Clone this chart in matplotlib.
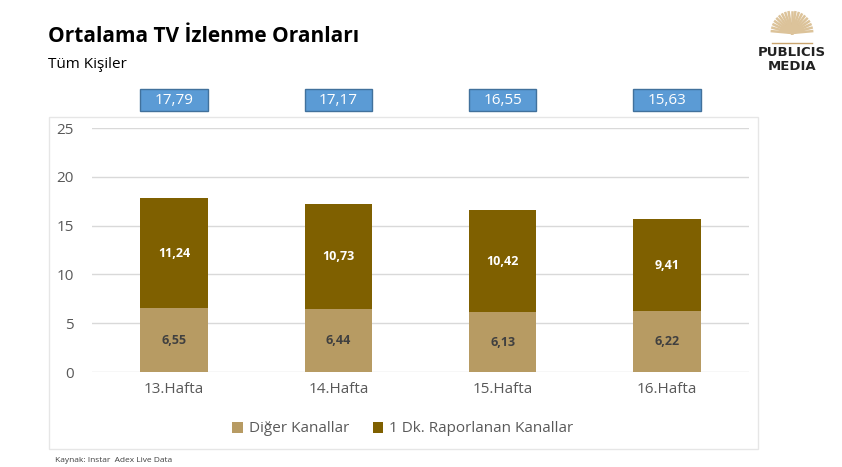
import numpy as np
import matplotlib.pyplot as plt
from matplotlib.patches import Rectangle
from matplotlib.transforms import blended_transform_factory

weeks = ['13.Hafta', '14.Hafta', '15.Hafta', '16.Hafta']
diger = [6.55, 6.44, 6.13, 6.22]
raporlanan = [11.24, 10.73, 10.42, 9.41]
toplam = [17.79, 17.17, 16.55, 15.63]

plt.rcParams['font.family'] = ['Open Sans', 'DejaVu Sans']


def fmt(v):
    return f'{v:.2f}'.replace('.', ',')


def main():
    fig = plt.figure(figsize=(8.42, 4.67), dpi=100)
    W, H = 842, 467

    # light frame around the chart
    fig.patches.append(Rectangle((49 / W, 1 - 449 / H), 709 / W, 332 / H,
                                 transform=fig.transFigure, fill=False,
                                 edgecolor='#E6E6E6', linewidth=1))

    ax = fig.add_axes([92 / W, 1 - 372 / H, 657 / W, 244 / H])
    x = np.arange(len(weeks))
    bw = 0.41
    ax.bar(x, diger, bw, color='#B79B63', label='Diğer Kanallar', zorder=3)
    ax.bar(x, raporlanan, bw, bottom=diger, color='#7F6000',
           label='1 Dk. Raporlanan Kanallar', zorder=3)

    for i in range(len(weeks)):
        ax.text(x[i], diger[i] / 2, fmt(diger[i]), ha='center', va='center',
                fontsize=9, fontweight='bold', color='#404040', zorder=4)
        ax.text(x[i], diger[i] + raporlanan[i] / 2, fmt(raporlanan[i]),
                ha='center', va='center', fontsize=9, fontweight='bold',
                color='white', zorder=4)

    # total boxes above the plot
    tr = blended_transform_factory(ax.transData, fig.transFigure)
    y0, y1 = 1 - 111 / H, 1 - 89 / H
    for i in range(len(weeks)):
        fig.patches.append(Rectangle((x[i] - bw / 2, y0), bw, y1 - y0,
                                     transform=tr, facecolor='#5B9BD5',
                                     edgecolor='#41719C', linewidth=1))
        fig.text(x[i], (y0 + y1) / 2, fmt(toplam[i]), transform=tr,
                 ha='center', va='center', fontsize=11, color='white')

    ax.set_xlim(-0.5, len(weeks) - 0.5)
    ax.set_ylim(0, 25)
    ax.set_yticks(range(0, 26, 5))
    ax.set_xticks(x)
    ax.set_xticklabels(weeks)
    ax.yaxis.grid(True, color='#D9D9D9', linewidth=1, zorder=0)
    ax.tick_params(axis='both', length=0, labelsize=11, colors='#595959')
    ax.tick_params(axis='y', pad=13)
    ax.tick_params(axis='x', pad=7)
    for s in ax.spines.values():
        s.set_visible(False)

    fig.legend(loc='center', bbox_to_anchor=(403 / W, 1 - 429 / H), ncol=2,
               frameon=False, fontsize=11, labelcolor='#595959',
               handlelength=0.7, handleheight=0.7, handletextpad=0.4,
               columnspacing=1.5)

    fig.text(48 / W, 1 - 36 / H, 'Ortalama TV İzlenme Oranları',
             fontsize=15, fontweight='bold', va='center', color='black')
    fig.text(48 / W, 1 - 64 / H, 'Tüm Kişiler', fontsize=11,
             va='center', color='black')
    fig.text(55 / W, 1 - 461 / H, 'Kaynak: Instar  Adex Live Data',
             fontsize=6, va='center', color='#404040')

    # logo
    lx, ly = 792 / W, 1 - 33 / H
    for a in np.linspace(5, 175, 19):
        r = np.deg2rad(a)
        fig.lines.append(plt.Line2D([lx, lx + 0.024 * np.cos(r)],
                                    [ly, ly + 0.045 * np.sin(r)],
                                    transform=fig.transFigure,
                                    color='#DCC39A', linewidth=1.8))
    fig.patches.append(plt.Circle((lx, ly + 0.012), 0.009,
                                  transform=fig.transFigure,
                                  color='#C9A46E'))
    fig.lines.append(plt.Line2D([772 / W, 812 / W], [1 - 43 / H, 1 - 43 / H],
                                transform=fig.transFigure,
                                color='#C9A46E', linewidth=1))
    fig.text(792 / W, 1 - 53 / H, 'PUBLICIS', fontsize=9.5, fontweight='bold',
             family='DejaVu Sans', ha='center', va='center',
             color='#222222')
    fig.text(792 / W, 1 - 66 / H, 'MEDIA', fontsize=9.5, fontweight='bold',
             family='DejaVu Sans', ha='center', va='center',
             color='#222222')

    fig.savefig('out.png', dpi=100)


if __name__ == '__main__':
    main()
